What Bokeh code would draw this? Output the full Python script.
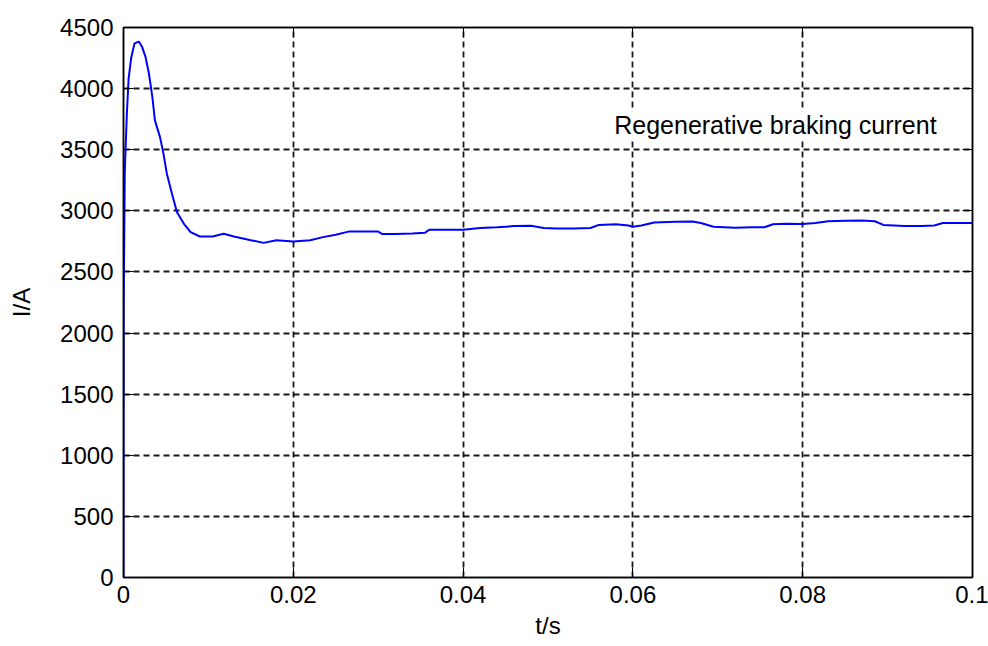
from bokeh.plotting import figure
from bokeh.models import FixedTicker, LinearAxis, Range1d, Label
from bokeh.embed import file_html
from bokeh.resources import INLINE

# Data
t = [0.0, 0.00002, 0.00015, 0.0004, 0.0006, 0.0009, 0.0013, 0.0018, 0.0022, 0.0026,
     0.0030, 0.0034, 0.0037, 0.0043, 0.0047, 0.0051, 0.0057, 0.0063, 0.0071, 0.0079,
     0.009, 0.0105, 0.0118, 0.013, 0.015, 0.0165, 0.018, 0.020, 0.022, 0.0235,
     0.025, 0.0265, 0.028, 0.030, 0.0305, 0.032, 0.034, 0.0355, 0.036, 0.038,
     0.040, 0.042, 0.044, 0.046, 0.048, 0.0495, 0.051, 0.053, 0.055, 0.056,
     0.058, 0.0595, 0.060, 0.061, 0.0625, 0.065, 0.067, 0.068, 0.0695, 0.072,
     0.074, 0.0755, 0.0765, 0.078, 0.080, 0.0815, 0.083, 0.085, 0.087, 0.0885,
     0.0895, 0.092, 0.094, 0.0955, 0.0965, 0.100]
current = [0, 2200, 3320, 3800, 4080, 4250, 4370, 4385, 4340, 4258,
           4121, 3930, 3740, 3603, 3470, 3306, 3142, 2989, 2896, 2826,
           2790, 2790, 2812, 2790, 2760, 2738, 2760, 2750, 2760, 2785,
           2805, 2830, 2830, 2830, 2810, 2810, 2815, 2820, 2845, 2845,
           2845, 2860, 2865, 2875, 2878, 2860, 2855, 2855, 2860, 2885,
           2890, 2880, 2870, 2880, 2905, 2910, 2912, 2900, 2870, 2862,
           2865, 2866, 2890, 2895, 2893, 2900, 2915, 2918, 2920, 2915,
           2885, 2875, 2875, 2880, 2900, 2900]

x_ticks = [0, 0.02, 0.04, 0.06, 0.08, 0.1]
x_tick_labels = ["0", "0.02", "0.04", "0.06", "0.08", "0.1"]
y_ticks = [0, 500, 1000, 1500, 2000, 2500, 3000, 3500, 4000, 4500]

annotation = "Regenerative braking current"
annot_pos = (0.0578, 3700)

FONT = "Liberation Sans"

p = figure(width=988, height=646, output_backend="svg", toolbar_location=None,
           x_range=Range1d(0, 0.1), y_range=Range1d(0, 4500),
           min_border_left=123, min_border_right=16, min_border_top=27, min_border_bottom=69)

p.line(t, current, line_color="#0000FF", line_width=2)

for ax in (p.xaxis[0], p.yaxis[0]):
    ax.major_tick_in = 10
    ax.major_tick_out = 0
    ax.minor_tick_line_color = None
    ax.axis_line_color = "black"
    ax.axis_line_width = 1.5
    ax.major_tick_line_color = "black"
    ax.major_label_text_font = FONT
    ax.major_label_text_font_size = "24px"
    ax.major_label_text_color = "black"
    ax.axis_label_text_font = FONT
    ax.axis_label_text_font_size = "24px"
    ax.axis_label_text_font_style = "normal"
    ax.axis_label_text_color = "black"

p.xaxis[0].ticker = FixedTicker(ticks=x_ticks)
p.xaxis[0].major_label_overrides = {v: s for v, s in zip(x_ticks, x_tick_labels)}
p.xaxis[0].major_label_standoff = 8
p.xaxis[0].axis_label = "t/s"
p.xaxis[0].axis_label_standoff = 6
p.yaxis[0].ticker = FixedTicker(ticks=y_ticks)
p.yaxis[0].major_label_standoff = 10
p.yaxis[0].axis_label = "I/A"
p.yaxis[0].axis_label_standoff = 22

top = LinearAxis(ticker=FixedTicker(ticks=x_ticks),
                 major_label_overrides={v: "" for v in x_ticks},
                 major_label_text_color=None,
                 major_tick_in=10, major_tick_out=0, minor_tick_line_color=None,
                 axis_line_width=1.5)
right = LinearAxis(ticker=FixedTicker(ticks=y_ticks),
                   major_label_overrides={v: "" for v in y_ticks},
                   major_label_text_color=None,
                   major_tick_in=10, major_tick_out=0, minor_tick_line_color=None,
                   axis_line_width=1.5)
p.add_layout(top, "above")
p.add_layout(right, "right")

for g in (p.xgrid[0], p.ygrid[0]):
    g.grid_line_color = "black"
    g.grid_line_dash = "6 4"
    g.grid_line_width = 1.8
    g.grid_line_alpha = 0.9
p.xgrid[0].ticker = FixedTicker(ticks=x_ticks)
p.ygrid[0].ticker = FixedTicker(ticks=y_ticks)

p.outline_line_color = "black"
p.outline_line_width = 1.5

p.add_layout(Label(x=annot_pos[0], y=annot_pos[1], text=annotation,
                   text_font=FONT, text_font_size="25px", text_color="black",
                   text_baseline="middle", text_align="left",
                   background_fill_color="white"))

open("out.html", "w").write(file_html(p, INLINE))
